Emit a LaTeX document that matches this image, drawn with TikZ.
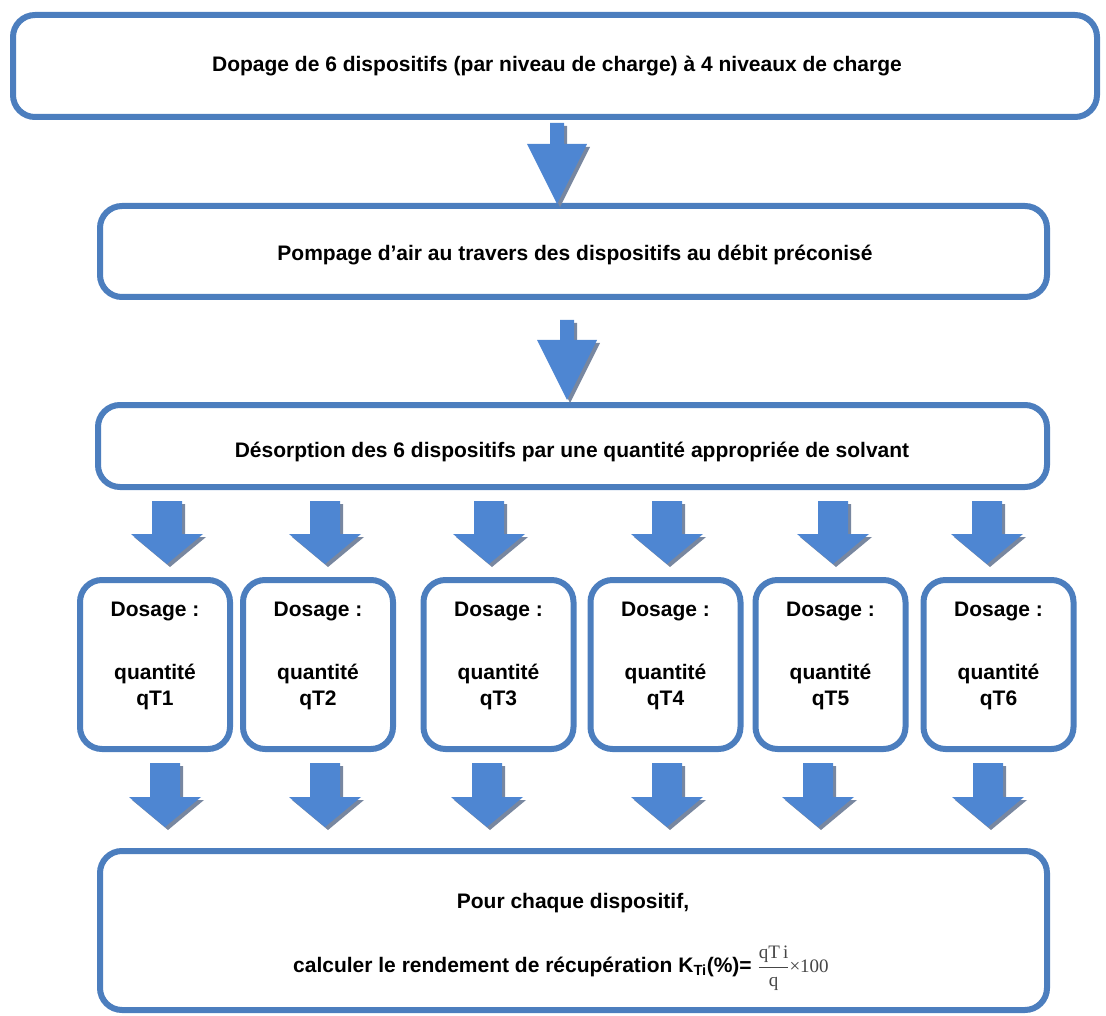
\documentclass[tikz,border=0pt]{standalone}
\usepackage{fontspec}
\setmainfont{Liberation Sans}
\newfontfamily\serifff{Liberation Serif}
\usetikzlibrary{calc}
\definecolor{boxblue}{RGB}{76,126,190}
\definecolor{arrowblue}{RGB}{78,134,210}
\definecolor{arrowshade}{RGB}{120,135,160}
\definecolor{fgrey}{RGB}{70,70,70}
\tikzset{
  box/.style={draw=boxblue, line width=6pt, rounded corners=22pt, fill=white, inner sep=0pt},
  bigbox/.style={box, minimum width=947pt},
  smallbox/.style={box, minimum width=150pt, minimum height=169pt},
  txt/.style={font=\fontsize{21}{26}\selectfont\bfseries, inner sep=0pt, align=center, text=black},
}
% #1 top point, #2 tip point, #3 shaft width, #4 head width, #5 head length, #6 offset, #7 colour
\newcommand\arrowshape[7]{%
  \fill[#7] let \p1=(#1), \p2=(#2) in
    ({\x2-#3/2+#6},{\y1-#6}) -- ({\x2+#3/2+#6},{\y1-#6}) --
    ({\x2+#3/2+#6},{\y2+#5-#6}) -- ({\x2+#4/2+#6},{\y2+#5-#6}) --
    ({\x2+#6},{\y2-#6}) -- ({\x2-#4/2+#6},{\y2+#5-#6}) --
    ({\x2-#3/2+#6},{\y2+#5-#6}) -- cycle;}
\newcommand\blockarrow[5]{%
  \arrowshape{#1}{#2}{#3}{#4}{#5}{3pt}{arrowshade}%
  \arrowshape{#1}{#2}{#3}{#4}{#5}{0pt}{arrowblue}}
\begin{document}
\begin{tikzpicture}[x=1pt,y=-1pt]
\useasboundingbox (0,0) rectangle (1106,1016);
% boxes
\node[box, minimum width=1084pt, minimum height=102pt] (b1) at (555,66) {};
\node[bigbox, minimum height=91pt] (b2) at (573.5,251.5) {};
\node[bigbox, minimum width=949pt, minimum height=82pt] (b3) at (572.5,446) {};
\node[smallbox] (s1) at (155,664.5) {};
\node[smallbox] (s2) at (318,664.5) {};
\node[smallbox] (s3) at (498.5,664.5) {};
\node[smallbox] (s4) at (665.5,664.5) {};
\node[smallbox] (s5) at (830.5,664.5) {};
\node[smallbox] (s6) at (998.5,664.5) {};
\node[bigbox, minimum height=159pt] (b4) at (573.5,930.5) {};
% texts
\node[txt] (t1) at (557,66) {Dopage de 6 dispositifs (par niveau de charge) à 4 niveaux de charge};
\node[txt] (t2) at (575,255) {Pompage d’air au travers des dispositifs au débit préconisé};
\node[txt] (t3) at (572,452) {Désorption des 6 dispositifs par une quantité appropriée de solvant};
\foreach \i in {1,...,6}{
  \node[txt] (q\i) at ($(s\i.center)+(0,-9)$) {Dosage :\\[37pt]quantité\\qT\i};
}
\node[txt] (p1) at (573,903) {Pour chaque dispositif,};
\node[txt, anchor=west] (p2) at (293,968) {calculer le rendement de récupération K\textsubscript{Ti}(\%)= {\mdseries\color{fgrey}$\displaystyle\frac{\mbox{\fontsize{19}{19}\selectfont\serifff qT\,i}}{\mbox{\fontsize{19}{19}\selectfont\serifff q}}\mbox{\fontsize{19}{19}\selectfont\serifff ×100}$}};
% arrow x positions
\coordinate (ax1) at (557,0);
\coordinate (ax2) at (567,0);
\foreach \n/\x in {1/167,2/325,3/489,4/667,5/833,6/987}{\coordinate (ra\n) at (\x,0);}
\foreach \n/\x in {1/165,2/325,3/487,4/667,5/818,6/988}{\coordinate (rb\n) at (\x,0);}
% arrows
\blockarrow{$(b1.south -| ax1)+(0,3)$}{$(b2.north -| ax1)+(0,1)$}{14pt}{60pt}{60pt}
\blockarrow{$(b2.south -| ax2)+(0,20)$}{$(b3.north -| ax2)+(0,-2)$}{14pt}{60pt}{60pt}
\foreach \i in {1,...,6}{
  \blockarrow{$(b3.south -| ra\i)+(0,11)$}{$(s\i.north -| ra\i)+(0,-13)$}{30pt}{72pt}{30pt}
  \blockarrow{$(s\i.south -| rb\i)+(0,11)$}{$(b4.north -| rb\i)+(0,-21)$}{30pt}{72pt}{30pt}
}
\end{tikzpicture}
\end{document}
